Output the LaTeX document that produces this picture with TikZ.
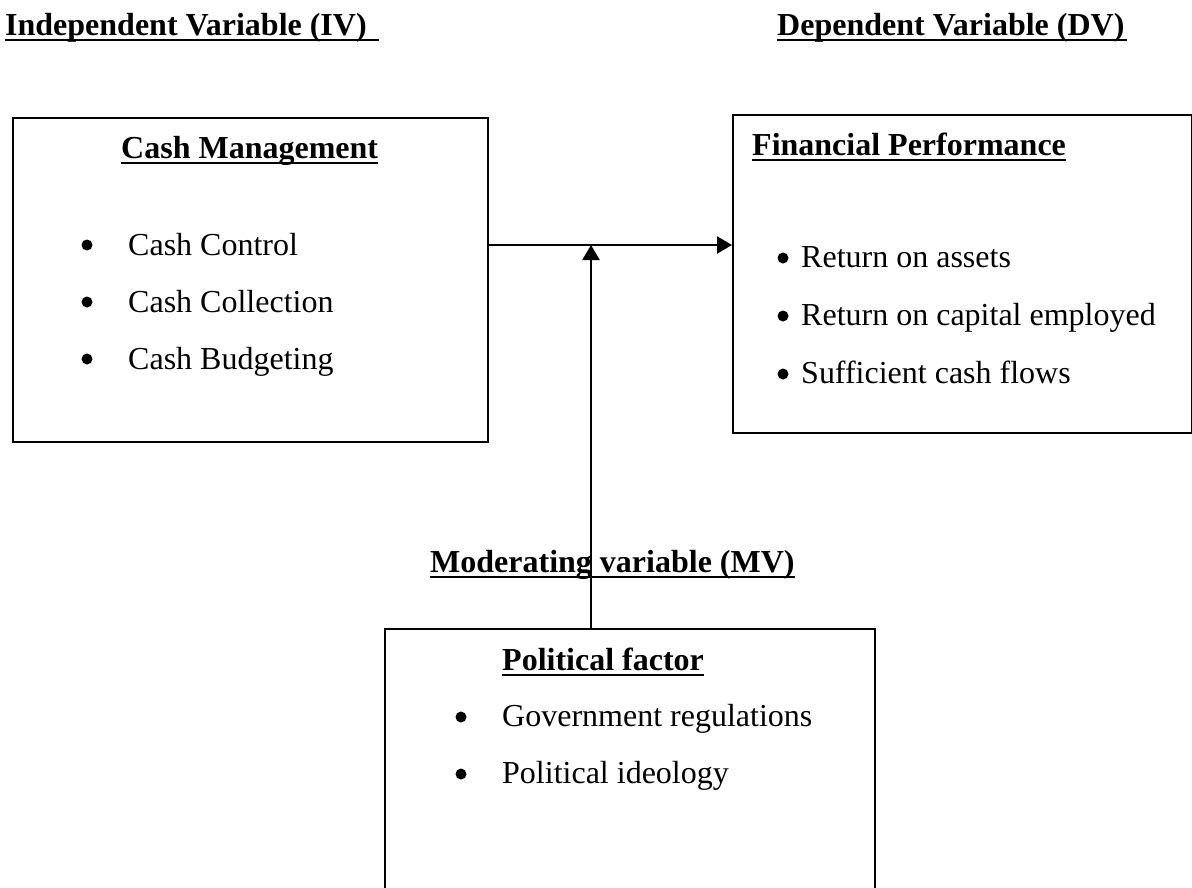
\documentclass[tikz,border=0pt]{standalone}
\usepackage{fontspec}
\setmainfont{Liberation Serif}
\usetikzlibrary{arrows.meta}
\begin{document}
\begin{tikzpicture}[x=1pt,y=-1pt,
  box/.style={draw, line width=2.2pt, inner sep=0pt, anchor=north west},
  txt/.style={inner sep=0pt, anchor=base west, font=\fontsize{32}{38}\selectfont},
  head/.style={inner sep=0pt, anchor=base west, font=\fontsize{32}{38}\selectfont\bfseries},
  bul/.style={circle, fill, inner sep=0pt, minimum size=11pt},
  uline/.style={line width=2.8pt},
  arr/.style={line width=2.2pt, -{Triangle[length=15pt,width=17pt]}},
]
\path[use as bounding box] (0,0) rectangle (1192,887);
\clip (0,0) rectangle (1192,887);

% boxes
\node[box, minimum width=475pt, minimum height=324pt] (cm) at (12,117) {};
\node[box, minimum width=459pt, minimum height=318pt] (fp) at (732,114) {};
\node[box, minimum width=490pt, minimum height=300pt] (pf) at (384,628) {};

% headings
\node[head] (iv) at (5,35) {Independent Variable (IV)};
\node[head] (dv) at (777,35) {Dependent Variable (DV)};
\draw[uline] ([yshift=-5pt]iv.base west) -- ([yshift=-5pt,xshift=12pt]iv.base east);
\draw[uline] ([yshift=-5pt]dv.base west) -- ([yshift=-5pt,xshift=2pt]dv.base east);

% cash management
\node[head] (cmh) at (121,158) {Cash Management};
\draw[uline] ([yshift=-5pt]cmh.base west) -- ([yshift=-5pt]cmh.base east);
\node[bul] (cb1) at (87,245) {};
\node[bul] (cb2) at (87,302) {};
\node[bul] (cb3) at (87,359) {};
\node[txt] (c1) at (128,255) {Cash Control};
\node[txt] (c2) at (128,312) {Cash Collection};
\node[txt] (c3) at (128,369) {Cash Budgeting};

% financial performance
\node[head] (fph) at (752,155) {Financial Performance};
\draw[uline] ([yshift=-5pt]fph.base west) -- ([yshift=-5pt]fph.base east);
\node[bul] (fb1) at (783,258) {};
\node[bul] (fb2) at (783,316) {};
\node[bul] (fb3) at (783,374) {};
\node[txt] (f1) at (801,267) {Return on assets};
\node[txt] (f2) at (801,325) {Return on capital employed};
\node[txt] (f3) at (801,383) {Sufficient cash flows};

% moderating
\node[head] (mv) at (430,572) {Moderating variable (MV)};
\draw[uline] ([yshift=-5pt]mv.base west) -- ([yshift=-5pt]mv.base east);

% political factor
\node[head] (pfh) at (502,670) {Political factor};
\draw[uline] ([yshift=-5pt]pfh.base west) -- ([yshift=-5pt]pfh.base east);
\node[bul] (pb1) at (461,717) {};
\node[bul] (pb2) at (461,774) {};
\node[txt] (p1) at (502,726) {Government regulations};
\node[txt] (p2) at (502,783) {Political ideology};

% connectors
\coordinate (j) at (591,245);
\draw[arr] (cm.east |- j) -- (fp.west |- j);
\draw[arr] (pf.north -| j) -- (j);
\end{tikzpicture}
\end{document}
